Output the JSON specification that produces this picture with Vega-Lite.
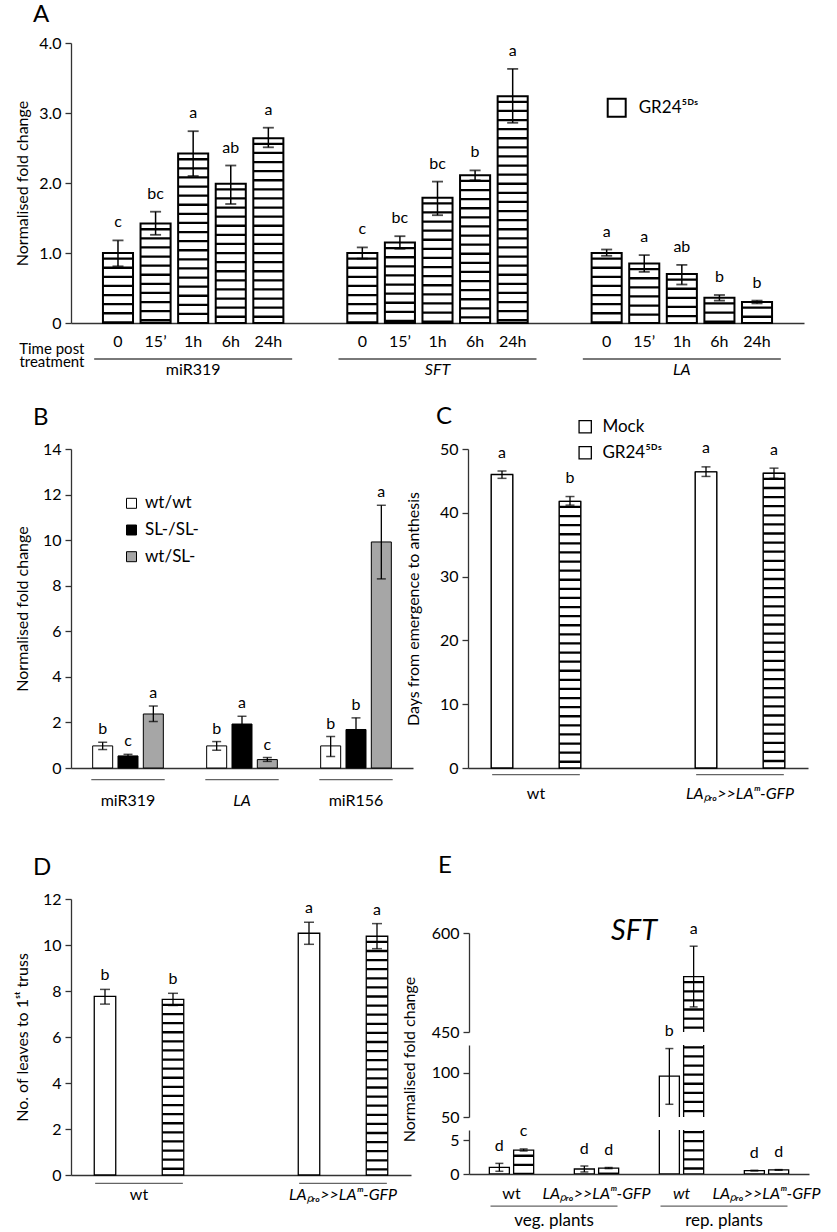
{
  "$schema": "https://vega.github.io/schema/vega-lite/v6.json",
  "padding": {"left": 13, "top": 3, "right": 0, "bottom": 0},
  "config": {
    "font": "Lato",
    "view": {"stroke": null},
    "axis": {"labelFontSize": 16, "titleFontSize": 16, "titleFontWeight": "normal", "labelColor": "black", "titleColor": "black", "domainColor": "#333", "domainWidth": 1.3, "tickColor": "#333", "tickWidth": 1.3, "tickSize": 6, "labelPadding": 4, "titlePadding": 10, "grid": false, "labelLimit": 0, "labelOverlap": false},
    "axisX": {"ticks": false, "labelAngle": 0, "tickSize": 0},
    "legend": {"labelFontSize": 17, "labelColor": "black", "padding": 0, "labelLimit": 0},
    "title": {"fontSize": 24, "fontWeight": "normal", "anchor": "start", "frame": "group", "color": "black", "baseline": "alphabetic"},
    "text": {"fontSize": 16, "color": "black"}
  },
  "datasets": {
    "A": [
      {"gene": "miR319", "time": "0", "treatment": "GR24⁵ᴰˢ", "key": "miR319|0", "value": 1.00, "lo": 0.81, "hi": 1.18, "letter": "c"},
      {"gene": "miR319", "time": "15’", "treatment": "GR24⁵ᴰˢ", "key": "miR319|15’", "value": 1.42, "lo": 1.26, "hi": 1.59, "letter": "bc"},
      {"gene": "miR319", "time": "1h", "treatment": "GR24⁵ᴰˢ", "key": "miR319|1h", "value": 2.42, "lo": 2.10, "hi": 2.74, "letter": "a"},
      {"gene": "miR319", "time": "6h", "treatment": "GR24⁵ᴰˢ", "key": "miR319|6h", "value": 1.99, "lo": 1.70, "hi": 2.25, "letter": "ab"},
      {"gene": "miR319", "time": "24h", "treatment": "GR24⁵ᴰˢ", "key": "miR319|24h", "value": 2.64, "lo": 2.51, "hi": 2.79, "letter": "a"},
      {"gene": "SFT", "time": "0", "treatment": "GR24⁵ᴰˢ", "key": "SFT|0", "value": 1.00, "lo": 0.92, "hi": 1.08, "letter": "c"},
      {"gene": "SFT", "time": "15’", "treatment": "GR24⁵ᴰˢ", "key": "SFT|15’", "value": 1.15, "lo": 1.06, "hi": 1.24, "letter": "bc"},
      {"gene": "SFT", "time": "1h", "treatment": "GR24⁵ᴰˢ", "key": "SFT|1h", "value": 1.79, "lo": 1.54, "hi": 2.02, "letter": "bc"},
      {"gene": "SFT", "time": "6h", "treatment": "GR24⁵ᴰˢ", "key": "SFT|6h", "value": 2.11, "lo": 2.04, "hi": 2.18, "letter": "b"},
      {"gene": "SFT", "time": "24h", "treatment": "GR24⁵ᴰˢ", "key": "SFT|24h", "value": 3.24, "lo": 2.86, "hi": 3.63, "letter": "a"},
      {"gene": "LA", "time": "0", "treatment": "GR24⁵ᴰˢ", "key": "LA|0", "value": 1.00, "lo": 0.96, "hi": 1.05, "letter": "a"},
      {"gene": "LA", "time": "15’", "treatment": "GR24⁵ᴰˢ", "key": "LA|15’", "value": 0.85, "lo": 0.73, "hi": 0.97, "letter": "a"},
      {"gene": "LA", "time": "1h", "treatment": "GR24⁵ᴰˢ", "key": "LA|1h", "value": 0.70, "lo": 0.55, "hi": 0.83, "letter": "ab"},
      {"gene": "LA", "time": "6h", "treatment": "GR24⁵ᴰˢ", "key": "LA|6h", "value": 0.36, "lo": 0.32, "hi": 0.40, "letter": "b"},
      {"gene": "LA", "time": "24h", "treatment": "GR24⁵ᴰˢ", "key": "LA|24h", "value": 0.30, "lo": 0.28, "hi": 0.32, "letter": "b"}
    ],
    "B": [
      {"gene": "miR319", "genotype": "wt/wt", "key": "miR319|wt/wt", "value": 0.97, "lo": 0.81, "hi": 1.13, "letter": "b"},
      {"gene": "miR319", "genotype": "SL-/SL-", "key": "miR319|SL-/SL-", "value": 0.53, "lo": 0.47, "hi": 0.60, "letter": "c"},
      {"gene": "miR319", "genotype": "wt/SL-", "key": "miR319|wt/SL-", "value": 2.37, "lo": 2.04, "hi": 2.72, "letter": "a"},
      {"gene": "LA", "genotype": "wt/wt", "key": "LA|wt/wt", "value": 0.97, "lo": 0.78, "hi": 1.16, "letter": "b"},
      {"gene": "LA", "genotype": "SL-/SL-", "key": "LA|SL-/SL-", "value": 1.93, "lo": 1.60, "hi": 2.27, "letter": "a"},
      {"gene": "LA", "genotype": "wt/SL-", "key": "LA|wt/SL-", "value": 0.37, "lo": 0.29, "hi": 0.46, "letter": "c"},
      {"gene": "miR156", "genotype": "wt/wt", "key": "miR156|wt/wt", "value": 0.97, "lo": 0.51, "hi": 1.38, "letter": "b"},
      {"gene": "miR156", "genotype": "SL-/SL-", "key": "miR156|SL-/SL-", "value": 1.69, "lo": 1.20, "hi": 2.20, "letter": "b"},
      {"gene": "miR156", "genotype": "wt/SL-", "key": "miR156|wt/SL-", "value": 9.92, "lo": 8.30, "hi": 11.53, "letter": "a"}
    ],
    "C": [
      {"genotype": "wt", "treatment": "Mock", "key": "wt|Mock", "value": 46.0, "lo": 45.4, "hi": 46.55, "letter": "a"},
      {"genotype": "wt", "treatment": "GR24⁵ᴰˢ", "key": "wt|GR24⁵ᴰˢ", "value": 41.8, "lo": 41.2, "hi": 42.55, "letter": "b"},
      {"genotype": "LAₚᵣₒ>>LAᵐ-GFP", "treatment": "Mock", "key": "LAₚᵣₒ>>LAᵐ-GFP|Mock", "value": 46.4, "lo": 45.7, "hi": 47.2, "letter": "a"},
      {"genotype": "LAₚᵣₒ>>LAᵐ-GFP", "treatment": "GR24⁵ᴰˢ", "key": "LAₚᵣₒ>>LAᵐ-GFP|GR24⁵ᴰˢ", "value": 46.2, "lo": 45.4, "hi": 47.0, "letter": "a"}
    ],
    "D": [
      {"genotype": "wt", "treatment": "Mock", "key": "wt|Mock", "value": 7.77, "lo": 7.43, "hi": 8.07, "letter": "b"},
      {"genotype": "wt", "treatment": "GR24⁵ᴰˢ", "key": "wt|GR24⁵ᴰˢ", "value": 7.64, "lo": 7.37, "hi": 7.90, "letter": "b"},
      {"genotype": "LAₚᵣₒ>>LAᵐ-GFP", "treatment": "Mock", "key": "LAₚᵣₒ>>LAᵐ-GFP|Mock", "value": 10.51, "lo": 10.03, "hi": 10.99, "letter": "a"},
      {"genotype": "LAₚᵣₒ>>LAᵐ-GFP", "treatment": "GR24⁵ᴰˢ", "key": "LAₚᵣₒ>>LAᵐ-GFP|GR24⁵ᴰˢ", "value": 10.38, "lo": 9.84, "hi": 10.93, "letter": "a"}
    ],
    "E": [
      {"pair": "veg wt", "treatment": "Mock", "key": "veg wt|Mock", "value": 0.98, "lo": 0.40, "hi": 1.57, "letter": "d"},
      {"pair": "veg wt", "treatment": "GR24⁵ᴰˢ", "key": "veg wt|GR24⁵ᴰˢ", "value": 3.53, "lo": 3.40, "hi": 3.70, "letter": "c"},
      {"pair": "veg LA", "treatment": "Mock", "key": "veg LA|Mock", "value": 0.74, "lo": 0.30, "hi": 1.18, "letter": "d"},
      {"pair": "veg LA", "treatment": "GR24⁵ᴰˢ", "key": "veg LA|GR24⁵ᴰˢ", "value": 0.88, "lo": 0.80, "hi": 0.96, "letter": "d"},
      {"pair": "rep wt", "treatment": "Mock", "key": "rep wt|Mock", "value": 95.9, "lo": 64.3, "hi": 127, "letter": "b"},
      {"pair": "rep wt", "treatment": "GR24⁵ᴰˢ", "key": "rep wt|GR24⁵ᴰˢ", "value": 534, "lo": 488, "hi": 580, "letter": "a"},
      {"pair": "rep LA", "treatment": "Mock", "key": "rep LA|Mock", "value": 0.50, "lo": 0.45, "hi": 0.55, "letter": "d"},
      {"pair": "rep LA", "treatment": "GR24⁵ᴰˢ", "key": "rep LA|GR24⁵ᴰˢ", "value": 0.60, "lo": 0.55, "hi": 0.65, "letter": "d"}
    ]
  },
  "spacing": 27,
  "vconcat": [
    {
      "width": 733, "height": 280,
      "title": {"text": "A", "offset": 8, "dx": -38},
      "data": {"name": "A"},
      "layer": [
        {"mark": {"type": "bar", "width": {"band": 1.6}},
         "encoding": {
           "x": {"field": "key", "type": "nominal"},
           "y": {"field": "value", "type": "quantitative"},
           "color": {"field": "treatment", "type": "nominal", "scale": {"domain": ["GR24⁵ᴰˢ"], "range": ["white"]},
                     "legend": {"title": null, "orient": "none", "legendX": 535.7, "legendY": 54.7, "symbolType": "square", "symbolSize": 324, "symbolStrokeColor": "black", "symbolStrokeWidth": 2, "labelOffset": 12}}
         }},
        {"mark": {"type": "bar", "fill": "white", "stroke": "black", "strokeWidth": 2, "width": {"band": 1.6}},
         "encoding": {
           "x": {"field": "key", "type": "nominal",
                 "scale": {"domain": ["_0", "_1", "miR319|0", "_3", "miR319|15’", "_5", "miR319|1h", "_7", "miR319|6h", "_9", "miR319|24h", "_11", "_12", "_13", "_14", "SFT|0", "_16", "SFT|15’", "_18", "SFT|1h", "_20", "SFT|6h", "_22", "SFT|24h", "_24", "_25", "_26", "_27", "LA|0", "_29", "LA|15’", "_31", "LA|1h", "_33", "LA|6h", "_35", "LA|24h", "_37", "_38"], "paddingInner": 0, "paddingOuter": 0},
                 "axis": {"title": ["Time post", "treatment"], "titleX": 13, "titleY": 18, "titleAlign": "right", "titleBaseline": "top", "titleFontSize": 15, "titleLineHeight": 13, "labelPadding": 10,
                          "labelExpr": "indexof(datum.value, '|') > 0 ? split(datum.value, '|')[1] : ''"}},
           "y": {"field": "value", "type": "quantitative", "scale": {"domain": [0, 4], "nice": false},
                 "axis": {"title": "Normalised fold change", "titleX": -41, "labelOverlap": false, "values": [0, 0.5, 1, 1.5, 2, 2.5, 3, 3.5, 4], "labelExpr": "datum.value == 0 ? '0' : format(datum.value, '.1f')"}}
         }},
        {"mark": {"type": "rule", "color": "black", "strokeWidth": 30, "strokeDash": [2.3, 6.8], "strokeDashOffset": 4.6},
         "encoding": {"x": {"field": "key", "type": "nominal"}, "y": {"field": "value", "type": "quantitative"}}},
        {"mark": {"type": "rule", "color": "black", "strokeWidth": 1.5},
         "encoding": {"x": {"field": "key", "type": "nominal"}, "y": {"field": "lo", "type": "quantitative"}, "y2": {"field": "hi"}}},
        {"mark": {"type": "tick", "color": "black", "thickness": 1.8, "size": 11, "orient": "horizontal"},
         "encoding": {"x": {"field": "key", "type": "nominal"}, "y": {"field": "hi", "type": "quantitative"}}},
        {"mark": {"type": "tick", "color": "black", "thickness": 1.8, "size": 11, "orient": "horizontal"},
         "encoding": {"x": {"field": "key", "type": "nominal"}, "y": {"field": "lo", "type": "quantitative"}}},
        {"mark": {"type": "text", "baseline": "alphabetic", "dy": -13},
         "encoding": {"x": {"field": "key", "type": "nominal"}, "y": {"field": "hi", "type": "quantitative"}, "text": {"field": "letter", "type": "nominal"}}},
        {"transform": [{"filter": "datum.time == '1h'"}],
         "mark": {"type": "tick", "color": "black", "thickness": 1.4, "size": 198, "orient": "horizontal"},
         "encoding": {"x": {"field": "key", "type": "nominal"}, "y": {"datum": -0.514, "type": "quantitative"}}},
        {"transform": [{"filter": "datum.time == '1h' && datum.gene == 'miR319'"}],
         "mark": {"type": "text", "baseline": "middle"},
         "encoding": {"x": {"field": "key", "type": "nominal"}, "y": {"datum": -0.671, "type": "quantitative"}, "text": {"field": "gene", "type": "nominal"}}},
        {"transform": [{"filter": "datum.time == '1h' && datum.gene != 'miR319'"}],
         "mark": {"type": "text", "baseline": "middle", "fontStyle": "italic"},
         "encoding": {"x": {"field": "key", "type": "nominal"}, "y": {"datum": -0.671, "type": "quantitative"}, "text": {"field": "gene", "type": "nominal"}}}
      ]
    },
    {
      "spacing": 46,
      "vconcat": [
        {
          "bounds": "flush",
          "spacing": 55,
          "hconcat": [
            {
              "width": 342, "height": 319,
              "title": {"text": "B", "offset": 11, "dx": -38},
              "data": {"name": "B"},
              "layer": [
                {"mark": {"type": "bar", "stroke": "black", "strokeWidth": 1, "width": {"band": 1.58}},
                 "encoding": {
                   "x": {"field": "key", "type": "nominal",
                         "scale": {"domain": ["_0", "_1", "miR319|wt/wt", "_3", "miR319|SL-/SL-", "_5", "miR319|wt/SL-", "_7", "_8", "_9", "_10", "LA|wt/wt", "_12", "LA|SL-/SL-", "_14", "LA|wt/SL-", "_16", "_17", "_18", "_19", "miR156|wt/wt", "_21", "miR156|SL-/SL-", "_23", "miR156|wt/SL-", "_25", "_26"], "paddingInner": 0, "paddingOuter": 0},
                         "axis": {"title": null, "labelPadding": 24, "labelExpr": "indexof(datum.value, '|SL-/SL-') > 0 ? split(datum.value, '|')[0] : ''",
                                  "labelFontStyle": {"condition": {"test": "datum.value == 'LA|SL-/SL-'", "value": "italic"}, "value": "normal"}}},
                   "y": {"field": "value", "type": "quantitative", "scale": {"domain": [0, 14], "nice": false}, "axis": {"title": "Normalised fold change", "titleX": -41, "labelOverlap": false, "values": [0, 2, 4, 6, 8, 10, 12, 14]}},
                   "fill": {"field": "genotype", "type": "nominal", "scale": {"domain": ["wt/wt", "SL-/SL-", "wt/SL-"], "range": ["white", "black", "#a6a6a6"]},
                            "legend": {"title": null, "orient": "none", "legendX": 52, "legendY": 451.8, "symbolType": "square", "symbolSize": 100, "symbolStrokeColor": "black", "symbolStrokeWidth": 1, "labelOffset": 5, "rowPadding": 8.7}}
                 }},
                {"mark": {"type": "rule", "color": "black", "strokeWidth": 1.3},
                 "encoding": {"x": {"field": "key", "type": "nominal"}, "y": {"field": "lo", "type": "quantitative"}, "y2": {"field": "hi"}}},
                {"mark": {"type": "tick", "color": "black", "thickness": 1.5, "size": 9, "orient": "horizontal"},
                 "encoding": {"x": {"field": "key", "type": "nominal"}, "y": {"field": "hi", "type": "quantitative"}}},
                {"mark": {"type": "tick", "color": "black", "thickness": 1.5, "size": 9, "orient": "horizontal"},
                 "encoding": {"x": {"field": "key", "type": "nominal"}, "y": {"field": "lo", "type": "quantitative"}}},
                {"mark": {"type": "text", "baseline": "alphabetic", "dy": -8},
                 "encoding": {"x": {"field": "key", "type": "nominal"}, "y": {"field": "hi", "type": "quantitative"}, "text": {"field": "letter", "type": "nominal"}}},
                {"transform": [{"filter": "datum.genotype == 'SL-/SL-'"}],
                 "mark": {"type": "tick", "color": "#222", "thickness": 1.3, "size": 73.4, "orient": "horizontal"},
                 "encoding": {"x": {"field": "key", "type": "nominal"}, "y": {"datum": -0.513, "type": "quantitative"}}}
              ]
            },
            {
              "width": 340, "height": 319,
              "title": {"text": "C", "offset": 11, "dx": -32},
              "data": {"name": "C"},
              "layer": [
                {"mark": {"type": "bar", "fill": "white", "width": {"band": 0.632}},
                 "encoding": {
                   "x": {"field": "key", "type": "nominal"},
                   "y": {"field": "value", "type": "quantitative"},
                   "stroke": {"field": "treatment", "type": "nominal", "scale": {"domain": ["Mock", "GR24⁵ᴰˢ"], "range": ["black", "black"]},
                              "legend": {"title": null, "orient": "none", "legendX": 505.7, "legendY": 375.2, "symbolType": "square", "symbolSize": 150, "symbolFillColor": "white", "symbolStrokeWidth": 1.3, "labelOffset": 8.7, "rowPadding": 7}}
                 }},
                {"mark": {"type": "bar", "fill": "white", "stroke": "black", "strokeWidth": 1.3, "width": {"band": 0.632}},
                 "encoding": {
                   "x": {"field": "key", "type": "nominal",
                         "scale": {"domain": ["wt|Mock", "wt", "wt|GR24⁵ᴰˢ", "_3", "_4", "_5", "LAₚᵣₒ>>LAᵐ-GFP|Mock", "LAₚᵣₒ>>LAᵐ-GFP", "LAₚᵣₒ>>LAᵐ-GFP|GR24⁵ᴰˢ"], "paddingInner": 0, "paddingOuter": 0.5},
                         "axis": {"title": null, "labelPadding": 17, "labelExpr": "indexof(datum.value, '|') >= 0 || indexof(datum.value, '_') == 0 ? '' : datum.value",
                                  "labelFontStyle": {"condition": {"test": "datum.value == 'wt'", "value": "normal"}, "value": "italic"}}},
                   "y": {"field": "value", "type": "quantitative", "scale": {"domain": [0, 50], "nice": false}, "axis": {"title": "Days from emergence to anthesis", "titleX": -47, "labelOverlap": false, "values": [0, 5, 10, 15, 20, 25, 30, 35, 40, 45, 50]}}
                 }},
                {"transform": [{"filter": "datum.treatment != 'Mock'"}],
                 "mark": {"type": "rule", "color": "black", "strokeWidth": 21.5, "strokeDash": [2.3, 6.8], "strokeDashOffset": 4.6},
                 "encoding": {"x": {"field": "key", "type": "nominal"}, "y": {"field": "value", "type": "quantitative"}}},
                {"mark": {"type": "rule", "color": "black", "strokeWidth": 1.3},
                 "encoding": {"x": {"field": "key", "type": "nominal"}, "y": {"field": "lo", "type": "quantitative"}, "y2": {"field": "hi"}}},
                {"mark": {"type": "tick", "color": "black", "thickness": 1.5, "size": 9, "orient": "horizontal"},
                 "encoding": {"x": {"field": "key", "type": "nominal"}, "y": {"field": "hi", "type": "quantitative"}}},
                {"mark": {"type": "tick", "color": "black", "thickness": 1.5, "size": 9, "orient": "horizontal"},
                 "encoding": {"x": {"field": "key", "type": "nominal"}, "y": {"field": "lo", "type": "quantitative"}}},
                {"mark": {"type": "text", "baseline": "alphabetic", "dy": -13.5},
                 "encoding": {"x": {"field": "key", "type": "nominal"}, "y": {"field": "hi", "type": "quantitative"}, "text": {"field": "letter", "type": "nominal"}}},
                {"data": {"values": [{"key": "wt"}, {"key": "LAₚᵣₒ>>LAᵐ-GFP"}]},
                 "mark": {"type": "tick", "color": "#222", "thickness": 1.3, "size": 87.7, "orient": "horizontal"},
                 "encoding": {"x": {"field": "key", "type": "nominal"}, "y": {"datum": -1.03, "type": "quantitative"}}}
              ]
            }
          ]
        },
        {
          "spacing": -11,
          "hconcat": [
            {
              "width": 340, "height": 276,
              "title": {"text": "D", "offset": 11, "dx": -38},
              "data": {"name": "D"},
              "layer": [
                {"mark": {"type": "point", "filled": true, "color": "white", "stroke": "black", "opacity": 1, "size": 20},
                 "encoding": {
                   "x": {"field": "key", "type": "nominal"},
                   "y": {"datum": 2, "type": "quantitative"},
                   "shape": {"field": "treatment", "type": "nominal", "scale": {"domain": ["Mock", "GR24⁵ᴰˢ"], "range": ["square", "square"]},
                             "legend": {"title": null, "orient": "none", "legendX": 49, "legendY": 860.8, "symbolSize": 137, "symbolStrokeColor": "black", "symbolFillColor": "white", "symbolStrokeWidth": 1.3, "labelOffset": 7.6, "rowPadding": 4.7}}
                 }},
                {"mark": {"type": "bar", "fill": "white", "stroke": "black", "strokeWidth": 1.3, "width": {"band": 0.632}},
                 "encoding": {
                   "x": {"field": "key", "type": "nominal",
                         "scale": {"domain": ["wt|Mock", "wt", "wt|GR24⁵ᴰˢ", "_3", "_4", "_5", "LAₚᵣₒ>>LAᵐ-GFP|Mock", "LAₚᵣₒ>>LAᵐ-GFP", "LAₚᵣₒ>>LAᵐ-GFP|GR24⁵ᴰˢ"], "paddingInner": 0, "paddingOuter": 0.5},
                         "axis": {"title": null, "labelPadding": 11, "labelExpr": "indexof(datum.value, '|') >= 0 || indexof(datum.value, '_') == 0 ? '' : datum.value",
                                  "labelFontStyle": {"condition": {"test": "datum.value == 'wt'", "value": "normal"}, "value": "italic"}}},
                   "y": {"field": "value", "type": "quantitative", "scale": {"domain": [0, 12], "nice": false}, "axis": {"title": "No. of leaves to 1ˢᵗ truss", "titleX": -41, "labelOverlap": false, "values": [0, 2, 4, 6, 8, 10, 12]}}
                 }},
                {"transform": [{"filter": "datum.treatment != 'Mock'"}],
                 "mark": {"type": "rule", "color": "black", "strokeWidth": 21.5, "strokeDash": [2.3, 6.8], "strokeDashOffset": 4.6},
                 "encoding": {"x": {"field": "key", "type": "nominal"}, "y": {"field": "value", "type": "quantitative"}}},
                {"mark": {"type": "rule", "color": "black", "strokeWidth": 1.3},
                 "encoding": {"x": {"field": "key", "type": "nominal"}, "y": {"field": "lo", "type": "quantitative"}, "y2": {"field": "hi"}}},
                {"mark": {"type": "tick", "color": "black", "thickness": 1.5, "size": 10, "orient": "horizontal"},
                 "encoding": {"x": {"field": "key", "type": "nominal"}, "y": {"field": "hi", "type": "quantitative"}}},
                {"mark": {"type": "tick", "color": "black", "thickness": 1.5, "size": 10, "orient": "horizontal"},
                 "encoding": {"x": {"field": "key", "type": "nominal"}, "y": {"field": "lo", "type": "quantitative"}}},
                {"mark": {"type": "text", "baseline": "alphabetic", "dy": -9},
                 "encoding": {"x": {"field": "key", "type": "nominal"}, "y": {"field": "hi", "type": "quantitative"}, "text": {"field": "letter", "type": "nominal"}}},
                {"data": {"values": [{"key": "wt"}, {"key": "LAₚᵣₒ>>LAᵐ-GFP"}]},
                 "mark": {"type": "tick", "color": "#222", "thickness": 1.3, "size": 87.7, "orient": "horizontal"},
                 "encoding": {"x": {"field": "key", "type": "nominal"}, "y": {"datum": -0.36, "type": "quantitative"}}}
              ]
            },
            {
              "bounds": "flush",
              "spacing": 13,
              "vconcat": [
                {
                  "width": 340, "height": 21,
                  "layer": [
                    {"data": {"values": [{"t": "E"}]},
                     "mark": {"type": "text", "fontSize": 24, "align": "left", "baseline": "alphabetic", "dx": -201, "dy": -36.5},
                     "encoding": {"text": {"field": "t", "type": "nominal"}}},
                    {"data": {"values": [{"t": "SFT"}]},
                     "mark": {"type": "text", "fontSize": 29, "fontStyle": "italic", "baseline": "alphabetic", "dy": 30.5, "dx": -5},
                     "encoding": {"text": {"field": "t", "type": "nominal"}}}
                  ]
                },
                {
                  "width": 340, "height": 99,
                  "data": {"name": "E"},
                  "layer": [
                    {"transform": [{"filter": "datum.value >= 450"}],
                     "mark": {"type": "bar", "fill": "white", "stroke": "black", "strokeWidth": 1.3, "clip": true, "width": {"band": 1.65}},
                     "encoding": {
                       "x": {"field": "key", "type": "nominal", "scale": {"domain": ["_0", "_1", "veg wt|Mock", "veg wt", "veg wt|GR24⁵ᴰˢ", "_5", "_6", "_7", "_8", "veg LA|Mock", "veg LA", "veg LA|GR24⁵ᴰˢ", "_12", "_13", "_14", "_15", "rep wt|Mock", "rep wt", "rep wt|GR24⁵ᴰˢ", "_19", "_20", "_21", "_22", "rep LA|Mock", "rep LA", "rep LA|GR24⁵ᴰˢ", "_26", "_27"], "paddingInner": 0, "paddingOuter": 0}, "axis": null},
                       "y": {"field": "value", "type": "quantitative", "scale": {"domain": [450, 600], "nice": false, "zero": false}, "axis": {"title": null, "labelOverlap": false, "values": [450, 500, 550, 600]}}
                     }},
                    {"transform": [{"filter": "datum.value >= 450 && datum.treatment != 'Mock'"}],
                     "mark": {"type": "rule", "color": "black", "strokeWidth": 20, "strokeDash": [2.3, 6.8], "strokeDashOffset": 4.6, "clip": true},
                     "encoding": {"x": {"field": "key", "type": "nominal"}, "y": {"field": "value", "type": "quantitative"}}},
                    {"transform": [{"filter": "datum.lo >= 450"}],
                     "mark": {"type": "rule", "color": "black", "strokeWidth": 1.3},
                     "encoding": {"x": {"field": "key", "type": "nominal"}, "y": {"field": "lo", "type": "quantitative"}, "y2": {"field": "hi"}}},
                    {"transform": [{"filter": "datum.lo >= 450"}],
                     "mark": {"type": "tick", "color": "black", "thickness": 1.5, "size": 8, "orient": "horizontal"},
                     "encoding": {"x": {"field": "key", "type": "nominal"}, "y": {"field": "hi", "type": "quantitative"}}},
                    {"transform": [{"filter": "datum.lo >= 450"}],
                     "mark": {"type": "tick", "color": "black", "thickness": 1.5, "size": 8, "orient": "horizontal"},
                     "encoding": {"x": {"field": "key", "type": "nominal"}, "y": {"field": "lo", "type": "quantitative"}}},
                    {"transform": [{"filter": "datum.hi >= 450"}],
                     "mark": {"type": "text", "baseline": "alphabetic", "dy": -12.5},
                     "encoding": {"x": {"field": "key", "type": "nominal"}, "y": {"field": "hi", "type": "quantitative"}, "text": {"field": "letter", "type": "nominal"}}}
                  ]
                },
                {
                  "width": 340, "height": 72,
                  "data": {"name": "E"},
                  "layer": [
                    {"transform": [{"filter": "datum.value >= 50"}],
                     "mark": {"type": "bar", "fill": "white", "stroke": "black", "strokeWidth": 1.3, "clip": true, "width": {"band": 1.65}},
                     "encoding": {
                       "x": {"field": "key", "type": "nominal", "scale": {"domain": ["_0", "_1", "veg wt|Mock", "veg wt", "veg wt|GR24⁵ᴰˢ", "_5", "_6", "_7", "_8", "veg LA|Mock", "veg LA", "veg LA|GR24⁵ᴰˢ", "_12", "_13", "_14", "_15", "rep wt|Mock", "rep wt", "rep wt|GR24⁵ᴰˢ", "_19", "_20", "_21", "_22", "rep LA|Mock", "rep LA", "rep LA|GR24⁵ᴰˢ", "_26", "_27"], "paddingInner": 0, "paddingOuter": 0}, "axis": null},
                       "y": {"field": "value", "type": "quantitative", "scale": {"domain": [50, 131], "nice": false, "zero": false}, "axis": {"title": "Normalised fold change", "labelOverlap": false, "values": [50, 100], "titleY": 14, "titleX": -52}}
                     }},
                    {"transform": [{"filter": "datum.value >= 50 && datum.treatment != 'Mock'"}],
                     "mark": {"type": "rule", "color": "black", "strokeWidth": 20, "strokeDash": [2.3, 6.8], "strokeDashOffset": 4.6, "clip": true},
                     "encoding": {"x": {"field": "key", "type": "nominal"}, "y": {"field": "value", "type": "quantitative"}}},
                    {"transform": [{"filter": "datum.lo >= 50 && datum.hi <= 131"}],
                     "mark": {"type": "rule", "color": "black", "strokeWidth": 1.3},
                     "encoding": {"x": {"field": "key", "type": "nominal"}, "y": {"field": "lo", "type": "quantitative"}, "y2": {"field": "hi"}}},
                    {"transform": [{"filter": "datum.lo >= 50 && datum.hi <= 131"}],
                     "mark": {"type": "tick", "color": "black", "thickness": 1.5, "size": 8, "orient": "horizontal"},
                     "encoding": {"x": {"field": "key", "type": "nominal"}, "y": {"field": "hi", "type": "quantitative"}}},
                    {"transform": [{"filter": "datum.lo >= 50 && datum.hi <= 131"}],
                     "mark": {"type": "tick", "color": "black", "thickness": 1.5, "size": 8, "orient": "horizontal"},
                     "encoding": {"x": {"field": "key", "type": "nominal"}, "y": {"field": "lo", "type": "quantitative"}}},
                    {"transform": [{"filter": "datum.hi >= 50 && datum.hi <= 131"}],
                     "mark": {"type": "text", "baseline": "alphabetic", "dy": -12.5},
                     "encoding": {"x": {"field": "key", "type": "nominal"}, "y": {"field": "hi", "type": "quantitative"}, "text": {"field": "letter", "type": "nominal"}}}
                  ]
                },
                {
                  "width": 340, "height": 44,
                  "data": {"name": "E"},
                  "layer": [
                    {"mark": {"type": "bar", "fill": "white", "stroke": "black", "strokeWidth": 1.3, "clip": true, "width": {"band": 1.65}},
                     "encoding": {
                       "x": {"field": "key", "type": "nominal", "scale": {"domain": ["_0", "_1", "veg wt|Mock", "veg wt", "veg wt|GR24⁵ᴰˢ", "_5", "_6", "_7", "_8", "veg LA|Mock", "veg LA", "veg LA|GR24⁵ᴰˢ", "_12", "_13", "_14", "_15", "rep wt|Mock", "rep wt", "rep wt|GR24⁵ᴰˢ", "_19", "_20", "_21", "_22", "rep LA|Mock", "rep LA", "rep LA|GR24⁵ᴰˢ", "_26", "_27"], "paddingInner": 0, "paddingOuter": 0},
                             "axis": {"title": null, "labelPadding": 11, "labelExpr": "indexof(datum.value, '|') >= 0 || indexof(datum.value, '_') == 0 ? '' : (indexof(datum.value, 'wt') >= 0 ? 'wt' : 'LAₚᵣₒ>>LAᵐ-GFP')",
                                      "labelFontStyle": {"condition": {"test": "datum.value == 'veg wt'", "value": "normal"}, "value": "italic"}}},
                       "y": {"field": "value", "type": "quantitative", "scale": {"domain": [0, 6.5], "nice": false}, "axis": {"title": null, "labelOverlap": false, "values": [0, 5]}}
                     }},
                    {"transform": [{"filter": "datum.treatment != 'Mock'"}],
                     "mark": {"type": "rule", "color": "black", "strokeWidth": 20, "strokeDash": [2.3, 6.8], "strokeDashOffset": 4.6, "clip": true},
                     "encoding": {"x": {"field": "key", "type": "nominal"}, "y": {"field": "value", "type": "quantitative"}}},
                    {"transform": [{"filter": "datum.hi <= 6.5"}],
                     "mark": {"type": "rule", "color": "black", "strokeWidth": 1.3},
                     "encoding": {"x": {"field": "key", "type": "nominal"}, "y": {"field": "lo", "type": "quantitative"}, "y2": {"field": "hi"}}},
                    {"transform": [{"filter": "datum.hi <= 6.5"}],
                     "mark": {"type": "tick", "color": "black", "thickness": 1.5, "size": 8, "orient": "horizontal"},
                     "encoding": {"x": {"field": "key", "type": "nominal"}, "y": {"field": "hi", "type": "quantitative"}}},
                    {"transform": [{"filter": "datum.hi <= 6.5"}],
                     "mark": {"type": "tick", "color": "black", "thickness": 1.5, "size": 8, "orient": "horizontal"},
                     "encoding": {"x": {"field": "key", "type": "nominal"}, "y": {"field": "lo", "type": "quantitative"}}},
                    {"transform": [{"filter": "datum.hi <= 6.5"}],
                     "mark": {"type": "text", "baseline": "alphabetic", "dy": -12.5},
                     "encoding": {"x": {"field": "key", "type": "nominal"}, "y": {"field": "hi", "type": "quantitative"}, "text": {"field": "letter", "type": "nominal"}}},
                    {"data": {"values": [{"key": "veg wt", "plants": "veg. plants"}, {"key": "rep wt", "plants": "rep. plants"}]},
                     "mark": {"type": "tick", "color": "#222", "thickness": 1.3, "size": 127, "orient": "horizontal", "xOffset": 42.5},
                     "encoding": {"x": {"field": "key", "type": "nominal"}, "y": {"datum": -4.75, "type": "quantitative"}}},
                    {"data": {"values": [{"key": "veg wt", "plants": "veg. plants"}, {"key": "rep wt", "plants": "rep. plants"}]},
                     "mark": {"type": "text", "baseline": "middle", "fontSize": 17, "dx": 42.5},
                     "encoding": {"x": {"field": "key", "type": "nominal"}, "y": {"datum": -6.96, "type": "quantitative"}, "text": {"field": "plants", "type": "nominal"}}}
                  ]
                }
              ]
            }
          ]
        }
      ]
    }
  ]
}
